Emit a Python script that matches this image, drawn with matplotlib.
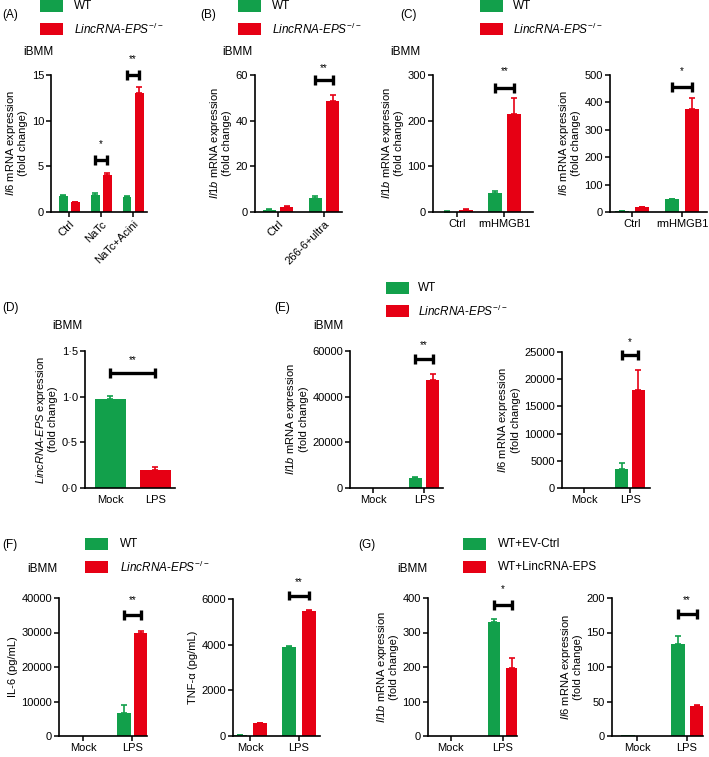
import numpy as np
import matplotlib
matplotlib.use("Agg")
import matplotlib.pyplot as plt
from matplotlib.patches import Rectangle

plt.rcParams['font.family'] = ['Liberation Sans', 'DejaVu Sans']
plt.rcParams['mathtext.fontset'] = 'custom'
plt.rcParams['mathtext.rm'] = 'Liberation Sans'
plt.rcParams['mathtext.it'] = 'Liberation Sans:italic'
plt.rcParams['font.size'] = 8

GREEN = '#12a04b'
RED = '#e60014'
W, H = 709, 757

KO = r'$\it{LincRNA}$-$\it{EPS}^{-/-}$'
IL6 = '$\\it{Il6}$ mRNA expression\n(fold change)'
IL1B = '$\\it{Il1b}$ mRNA expression\n(fold change)'

# ---- data ----
a_groups = ['Ctrl', 'NaTc', 'NaTc+Acini']
a_wt = [1.8, 1.85, 1.65]
a_wt_err = [0.1, 0.2, 0.08]
a_ko = [1.05, 4.0, 13.0]
a_ko_err = [0.05, 0.3, 0.7]

b_groups = ['Ctrl', '266-6+ultra']
b_wt = [1.0, 6.0]
b_wt_err = [0.4, 1.2]
b_ko = [2.3, 48.5]
b_ko_err = [0.3, 2.6]

c_groups = ['Ctrl', 'rmHMGB1']
c1_wt = [1.0, 42]
c1_wt_err = [0.5, 4]
c1_ko = [5, 215]
c1_ko_err = [1.5, 35]
c2_wt = [2, 48]
c2_wt_err = [0.5, 1]
c2_ko = [18, 375]
c2_ko_err = [2, 40]

d_groups = ['Mock', 'LPS']
d_vals = [0.97, 0.2]
d_err = [0.04, 0.03]

lps_groups = ['Mock', 'LPS']
e1_wt = [0, 4500]
e1_wt_err = [0, 400]
e1_ko = [0, 47500]
e1_ko_err = [0, 2600]
e2_wt = [0, 3500]
e2_wt_err = [0, 1100]
e2_ko = [0, 18000]
e2_ko_err = [0, 3600]

f1_wt = [100, 6800]
f1_wt_err = [0, 2200]
f1_ko = [100, 29800]
f1_ko_err = [0, 600]
f2_wt = [30, 3880]
f2_wt_err = [10, 60]
f2_ko = [580, 5480]
f2_ko_err = [10, 20]

g1_wt = [1, 330]
g1_wt_err = [0, 10]
g1_ko = [0.5, 197]
g1_ko_err = [0, 30]
g2_wt = [1, 133]
g2_wt_err = [0, 12]
g2_ko = [0, 43]
g2_ko_err = [0, 2]

fig = plt.figure(figsize=(W / 100, H / 100), dpi=100)
over = fig.add_axes([0, 0, 1, 1])
over.set_xlim(0, W)
over.set_ylim(H, 0)
over.axis('off')


def box(l, t, r, b):
    return [l / W, 1 - b / H, (r - l) / W, (b - t) / H]


def style(ax, ylabel):
    for s in ['top', 'right']:
        ax.spines[s].set_visible(False)
    for s in ['left', 'bottom']:
        ax.spines[s].set_linewidth(1.2)
    ax.tick_params(direction='out', length=3.5, width=1.1, labelsize=8, pad=1.5)
    ax.set_ylabel(ylabel, fontsize=8, labelpad=2.5, linespacing=1.05)


def errs(ax, x, vals, err, c):
    x = np.asarray(x, float)
    vals = np.asarray(vals, float)
    err = np.asarray(err, float)
    m = err > 0
    if m.any():
        ax.errorbar(x[m], vals[m], yerr=[np.zeros(m.sum()), err[m]], fmt='none',
                    ecolor=c, elinewidth=1.2, capsize=2.5, capthick=1.2)


def bracket(ax, x1, x2, y, stars, ys):
    d = (ax.get_ylim()[1]) * 0.035
    kw = dict(color='k', lw=2.4, clip_on=False, solid_capstyle='butt')
    ax.plot([x1, x2], [y, y], **kw)
    ax.plot([x1, x1], [y - d, y + d], **kw)
    ax.plot([x2, x2], [y - d, y + d], **kw)
    ax.text((x1 + x2) / 2, ys, stars, ha='center', va='center', fontsize=7, clip_on=False)


def panel(rect, groups, wt, wt_err, ko, ko_err, ymax, ystep, ylabel, xlim,
          sig, width=0.28, off=0.19, rot=0):
    ax = fig.add_axes(box(*rect))
    x = np.arange(len(groups))
    ax.bar(x - off, wt, width, color=GREEN)
    ax.bar(x + off, ko, width, color=RED)
    errs(ax, x - off, wt, wt_err, GREEN)
    errs(ax, x + off, ko, ko_err, RED)
    ax.set_ylim(0, ymax)
    ax.set_yticks(np.arange(0, ymax + ystep / 2, ystep))
    ax.set_xlim(*xlim)
    ax.set_xticks(x)
    if rot:
        ax.set_xticklabels(groups, rotation=rot, ha='right', rotation_mode='anchor')
    else:
        ax.set_xticklabels(groups)
    style(ax, ylabel)
    for gi, y, stars, ys in sig:
        bracket(ax, gi - off, gi + off, y, stars, ys)
    return ax


def legend(x, y, labels, text_dx):
    for i, (lab, c) in enumerate(zip(labels, [GREEN, RED])):
        yy = y + i * 23
        over.add_patch(Rectangle((x, yy), 23, 12, color=c, lw=0))
        over.text(x + text_dx, yy + 6, lab, ha='left', va='center', fontsize=8.5)


def label(x, y, s):
    over.text(x, y, s, ha='left', va='center', fontsize=8.5)


# ---- (A) ----
panel((51, 75, 147, 212), a_groups, a_wt, a_wt_err, a_ko, a_ko_err, 15, 5, IL6,
      (-0.58, 2.44), [(1, 5.7, '*', 7.4), (2, 15.0, '**', 16.7)], rot=45)
legend(40, 0, ['WT', KO], 34)
label(2, 15, '(A)')
label(23, 52, 'iBMM')

# ---- (B) ----
panel((255, 75, 342, 212), b_groups, b_wt, b_wt_err, b_ko, b_ko_err, 60, 20, IL1B,
      (-0.5, 1.39), [(1, 57.8, '**', 63)], width=0.29, off=0.19, rot=45)
legend(238, 0, ['WT', KO], 34)
label(200, 15, '(B)')
label(222, 52, 'iBMM')

# ---- (C) ----
panel((433, 75, 533, 212), c_groups, c1_wt, c1_wt_err, c1_ko, c1_ko_err, 300, 100, IL1B,
      (-0.5, 1.6), [(1, 271, '**', 308)], width=0.29, off=0.2)
panel((610, 75, 707, 212), c_groups, c2_wt, c2_wt_err, c2_ko, c2_ko_err, 500, 100, IL6,
      (-0.44, 1.5), [(1, 456, '*', 513)], width=0.29, off=0.2)
legend(480, 0, ['WT', KO], 33)
label(400, 15, '(C)')
label(390, 52, 'iBMM')

# ---- (D) ----
axd = fig.add_axes(box(85, 351, 175, 488))
xd = np.arange(len(d_groups))
axd.bar(xd, d_vals, 0.69, color=[GREEN, RED])
errs(axd, xd[:1], d_vals[:1], d_err[:1], GREEN)
errs(axd, xd[1:], d_vals[1:], d_err[1:], RED)
axd.set_ylim(0, 1.5)
axd.set_yticks([0, 0.5, 1.0, 1.5])
axd.set_yticklabels(['0·0', '0·5', '1·0', '1·5'])
axd.set_xlim(-0.56, 1.44)
axd.set_xticks(xd)
axd.set_xticklabels(d_groups)
style(axd, '$\\it{LincRNA}$-$\\it{EPS}$ expression\n(fold change)')
axd.tick_params(axis='x', length=0, pad=5)
bracket(axd, 0, 1, 1.26, '**', 1.40)
label(2, 308, '(D)')
label(52, 326, 'iBMM')

# ---- (E) ----
panel((350, 351, 443, 488), lps_groups, e1_wt, e1_wt_err, e1_ko, e1_ko_err, 60000, 20000, IL1B,
      (-0.45, 1.37), [(1, 56500, '**', 62500)], width=0.26, off=0.17)
panel((562, 352, 650, 488), lps_groups, e2_wt, e2_wt_err, e2_ko, e2_ko_err, 25000, 5000, IL6,
      (-0.48, 1.43), [(1, 24450, '*', 26900)], width=0.28, off=0.18)
legend(386, 282, ['WT', KO], 32)
label(274, 308, '(E)')
label(313, 326, 'iBMM')

# ---- (F) ----
panel((59, 598, 147, 736), lps_groups, f1_wt, f1_wt_err, f1_ko, f1_ko_err, 40000, 10000, 'IL-6 (pg/mL)',
      (-0.49, 1.3), [(1, 35000, '**', 39500)], width=0.27, off=0.17)
panel((233, 599, 320, 736), lps_groups, f2_wt, f2_wt_err, f2_ko, f2_ko_err, 6000, 2000, 'TNF-α (pg/mL)',
      (-0.35, 1.43), [(1, 6150, '**', 6750)], width=0.29, off=0.2)
legend(85, 538, ['WT', KO], 35)
label(2, 545, '(F)')
label(27, 569, 'iBMM')

# ---- (G) ----
panel((428, 598, 517, 736), lps_groups, g1_wt, g1_wt_err, g1_ko, g1_ko_err, 400, 100, IL1B,
      (-0.44, 1.27), [(1, 380, '*', 425)], width=0.24, off=0.17)
panel((612, 598, 703, 736), lps_groups, g2_wt, g2_wt_err, g2_ko, g2_ko_err, 200, 50, IL6,
      (-0.5, 1.32), [(1, 177, '**', 197)], width=0.28, off=0.19)
legend(463, 538, ['WT+EV-Ctrl', 'WT+LincRNA-EPS'], 35)
label(358, 545, '(G)')
label(397, 569, 'iBMM')

fig.savefig('out.png', dpi=100)
